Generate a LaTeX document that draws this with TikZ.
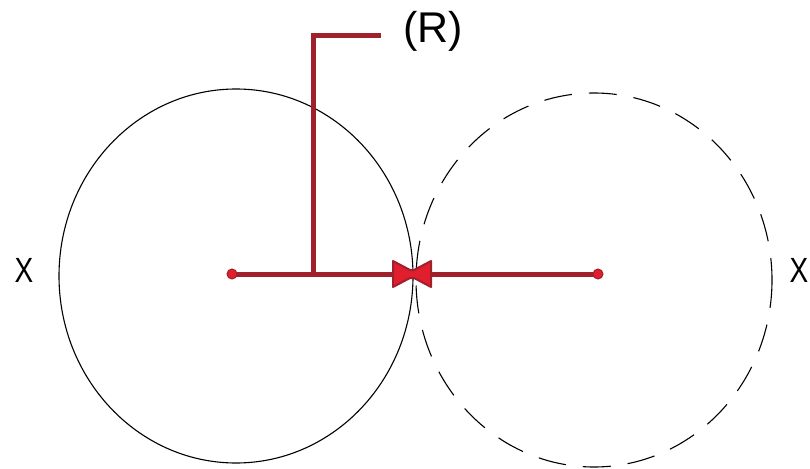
\documentclass[tikz,border=0pt]{standalone}
\usepackage{fontspec}
\setmainfont{Liberation Sans}
\usetikzlibrary{calc}
\definecolor{rod}{RGB}{160,32,44}
\definecolor{dotred}{RGB}{225,30,45}
\begin{document}
\begin{tikzpicture}[x=1pt,y=-1pt,
  circ/.style={draw=black,line width=1.1pt},
  dashcirc/.style={draw=black,line width=1.1pt,dash pattern=on 28pt off 17pt},
  rodline/.style={draw=rod,line width=5pt},
  enddot/.style={circle,fill=dotred,draw=rod,line width=1pt,minimum size=10pt,inner sep=0pt},
  lbl/.style={font=\fontsize{43}{48}\selectfont,inner sep=0pt},
  xlbl/.style={font=\fontsize{35}{40}\selectfont,inner sep=0pt}]
\useasboundingbox (0,0) rectangle (810,468);
\coordinate (c1) at (236,276);
\coordinate (c2) at (594,280);
\draw[circ] (c1) ellipse [x radius=177, y radius=187];
\draw[dashcirc] (c2) ellipse [x radius=178, y radius=187];
\coordinate (a) at (232,274);
\coordinate (b) at (598,274);
\coordinate (j) at (313,274);
\coordinate (t) at (313,36);
\coordinate (e) at (381,36);
\coordinate (m) at (412,274);
\draw[rodline] (a) -- (b);
\draw[rodline,line join=miter] (j) -- (t) -- (e);
\node[enddot] (da) at (a) {};
\node[enddot] (db) at (b) {};
\filldraw[fill=dotred,draw=rod,line width=2pt,line join=round] ($(m)+(-19,-13)$) -- ($(m)+(-2,-4)$) -- ($(m)+(2,-4)$) -- ($(m)+(19,-13)$) -- ($(m)+(19,13)$) -- ($(m)+(2,4)$) -- ($(m)+(-2,4)$) -- ($(m)+(-19,13)$) -- cycle;
\node[lbl] (r) at (433,31) {(R)};
\node[xlbl] (x1) at (24,270) {\scalebox{0.8}[1]{X}};
\node[xlbl] (x2) at (799,270) {\scalebox{0.8}[1]{X}};
\end{tikzpicture}
\end{document}
